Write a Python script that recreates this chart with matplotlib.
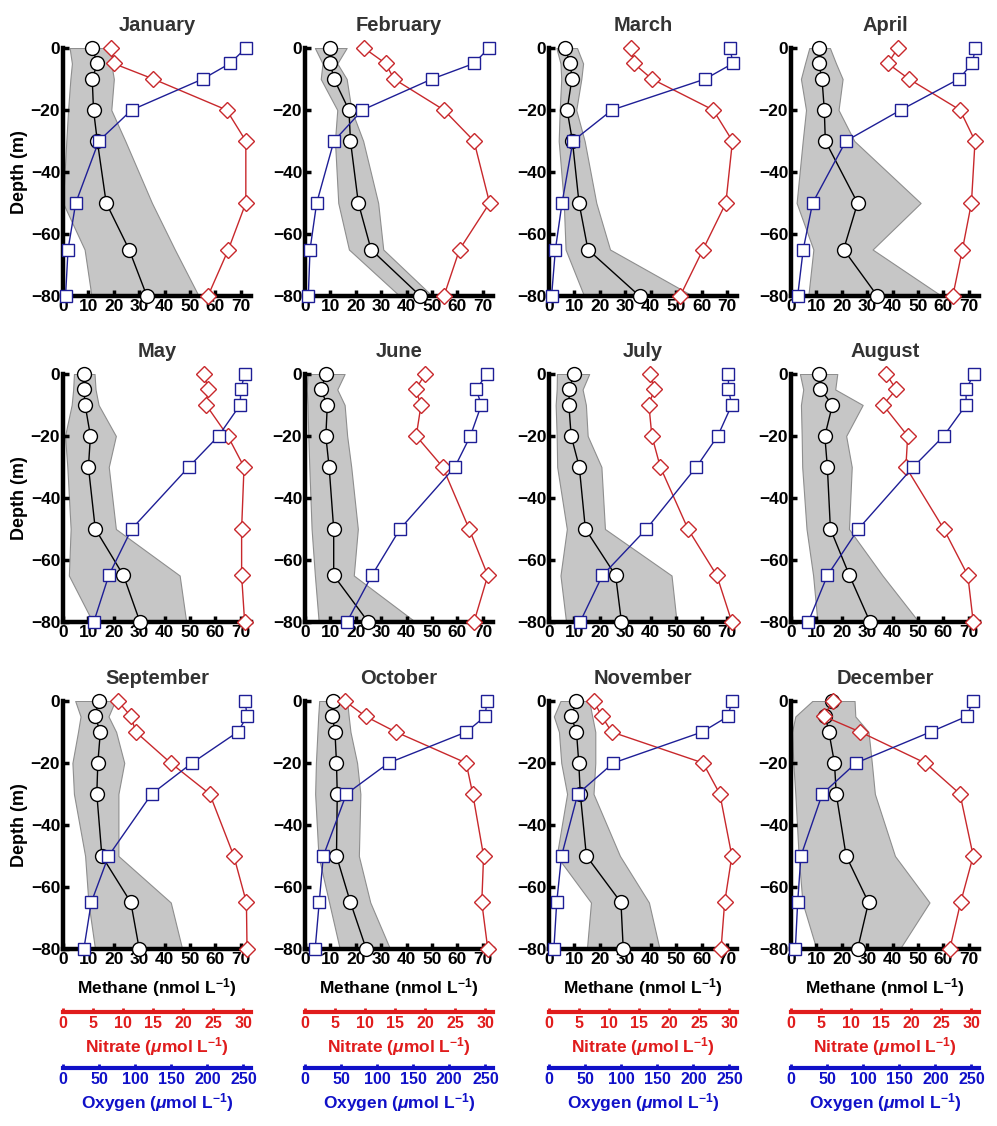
import numpy as np
import matplotlib
matplotlib.use("Agg")
import matplotlib.pyplot as plt

plt.rcParams['font.family'] = ['Liberation Sans', 'DejaVu Sans']
plt.rcParams['font.weight'] = 'bold'
plt.rcParams['mathtext.fontset'] = 'custom'
plt.rcParams['mathtext.rm'] = 'Liberation Sans:bold'
plt.rcParams['mathtext.bf'] = 'Liberation Sans:bold'
plt.rcParams['mathtext.it'] = 'Liberation Sans:bold:italic'

months = ['January', 'February', 'March', 'April', 'May', 'June',
          'July', 'August', 'September', 'October', 'November', 'December']
depth = [0, -5, -10, -20, -30, -50, -65, -80]

# methane mean (nmol/L) per month, one value per depth
methane = [
    [11.5, 13.5, 11.5, 12.0, 13.5, 17.0, 26.0, 33.0],
    [10.0, 10.0, 11.4, 17.3, 17.9, 21.0, 26.0, 45.4],
    [6.2, 8.4, 9.0, 7.1, 9.2, 11.8, 15.3, 35.6],
    [10.9, 10.9, 12.2, 13.1, 13.5, 26.2, 20.7, 34.0],
    [8.2, 8.2, 8.7, 10.8, 10.0, 12.7, 23.8, 30.3],
    [8.4, 6.2, 8.8, 8.2, 9.5, 11.3, 11.3, 24.9],
    [9.7, 8.0, 7.8, 8.7, 11.9, 14.3, 26.2, 28.5],
    [11.1, 11.6, 16.3, 13.3, 14.3, 15.5, 23.0, 31.1],
    [14.0, 12.6, 14.7, 13.7, 13.3, 15.3, 26.7, 30.0],
    [11.1, 10.8, 11.8, 12.4, 12.7, 12.4, 17.9, 24.1],
    [10.8, 8.7, 10.8, 11.7, 12.3, 14.7, 28.3, 29.2],
    [16.0, 13.5, 14.9, 17.1, 17.8, 21.7, 30.5, 26.2],
]
# methane range (min / max)
methane_lo = [
    [2.6, 3.5, 2.9, 2.0, 1.3, 0.0, 8.5, 11.2],
    [3.9, 6.9, 6.2, 12.7, 11.8, 13.1, 17.3, 37.3],
    [2.9, 4.5, 4.8, 4.2, 3.8, 5.8, 6.5, 13.8],
    [7.2, 5.5, 3.9, 5.9, 4.6, 2.2, 8.8, 6.8],
    [4.3, 4.0, 3.4, 0.8, 1.7, 3.0, 2.3, 11.7],
    [1.0, 0.7, 1.0, 1.3, 1.7, 2.6, 3.9, 5.4],
    [3.1, 3.0, 2.6, 3.0, 3.2, 7.0, 4.5, 6.7],
    [3.5, 4.8, 3.9, 4.2, 4.4, 6.1, 8.7, 10.4],
    [4.8, 6.9, 5.9, 3.7, 4.3, 8.7, 10.0, 12.6],
    [5.6, 5.2, 4.9, 4.3, 4.0, 5.3, 9.5, 13.7],
    [4.5, 1.9, 3.9, 4.8, 7.1, 3.0, 16.5, 14.9],
    [8.4, 1.7, 0.4, 0.9, 1.7, 3.0, 4.5, 10.0],
]
methane_hi = [
    [20.0, 19.0, 20.0, 19.0, 24.5, 35.0, 44.0, 53.4],
    [16.4, 12.7, 16.4, 18.3, 22.9, 28.8, 30.8, 50.1],
    [11.0, 13.4, 12.7, 10.7, 14.0, 18.6, 24.0, 56.6],
    [15.3, 17.7, 20.3, 18.7, 24.9, 51.0, 32.1, 59.3],
    [12.4, 12.8, 14.0, 20.8, 18.0, 20.8, 45.9, 48.5],
    [15.6, 12.7, 15.6, 16.6, 18.2, 20.8, 19.2, 43.5],
    [15.8, 13.2, 14.5, 15.2, 20.6, 22.0, 48.2, 50.2],
    [18.2, 17.4, 28.2, 21.7, 23.9, 22.8, 36.0, 50.3],
    [20.5, 17.9, 20.9, 24.1, 21.8, 21.8, 42.4, 46.9],
    [16.6, 17.2, 17.9, 20.5, 21.8, 21.2, 25.7, 33.5],
    [15.8, 17.0, 18.2, 18.2, 17.5, 27.9, 39.3, 43.5],
    [25.0, 25.3, 30.5, 31.8, 33.0, 40.9, 54.5, 42.8],
]
# nitrate (umol/L)
nitrate = [
    [7.9, 8.4, 15.0, 27.2, 30.4, 30.4, 27.5, 24.1],
    [9.8, 13.4, 14.8, 23.1, 28.1, 30.7, 25.7, 23.1],
    [13.7, 14.1, 17.1, 27.3, 30.5, 29.4, 25.6, 21.8],
    [17.8, 16.1, 19.6, 28.1, 30.6, 30.0, 28.5, 26.9],
    [23.5, 24.1, 23.8, 27.4, 30.1, 29.7, 29.7, 30.2],
    [20.0, 18.4, 19.3, 18.5, 22.9, 27.3, 30.4, 28.1],
    [16.8, 17.5, 16.6, 17.1, 18.5, 23.1, 27.9, 30.4],
    [15.8, 17.5, 15.3, 19.4, 19.1, 25.4, 29.4, 30.3],
    [9.1, 11.3, 12.1, 17.9, 24.4, 28.4, 30.5, 30.6],
    [6.6, 10.1, 15.1, 26.8, 27.9, 29.7, 29.4, 30.4],
    [7.4, 8.8, 10.4, 25.6, 28.4, 30.4, 29.2, 28.6],
    [7.0, 5.5, 11.5, 22.3, 28.1, 30.3, 28.2, 26.4],
]
# dissolved oxygen (umol/L)
oxygen = [
    [253.5, 231.3, 193.7, 95.1, 49.6, 17.6, 7.0, 3.5],
    [254.9, 234.1, 176.1, 79.6, 40.1, 16.2, 7.0, 4.6],
    [251.0, 254.6, 216.5, 87.3, 33.1, 18.0, 8.8, 3.5],
    [255.6, 251.0, 232.7, 152.1, 76.1, 29.9, 16.9, 9.2],
    [251.7, 246.5, 245.4, 215.5, 174.3, 95.1, 63.4, 42.6],
    [252.1, 237.3, 244.4, 229.2, 207.7, 131.7, 92.6, 58.1],
    [248.6, 248.6, 253.2, 233.8, 204.2, 134.9, 73.9, 43.0],
    [253.5, 242.6, 242.6, 211.6, 169.4, 93.3, 50.4, 23.9],
    [252.5, 254.9, 242.2, 178.9, 122.9, 63.0, 39.1, 28.9],
    [252.1, 249.6, 223.6, 115.8, 57.4, 25.4, 19.7, 14.1],
    [253.5, 247.9, 212.3, 89.1, 39.8, 17.3, 10.6, 6.7],
    [252.5, 243.3, 193.3, 90.1, 43.3, 13.7, 9.2, 6.0],
]

methane_ticks = [0, 10, 20, 30, 40, 50, 60, 70]
nitrate_ticks = [0, 5, 10, 15, 20, 25, 30]
oxygen_ticks = [0, 50, 100, 150, 200, 250]
depth_ticks = [0, -20, -40, -60, -80]

# axis ranges: 30 umol nitrate and 250 umol oxygen sit at 71 nmol methane
CH4_LIM = (0, 74)
NO3_LIM = (0, 74 * 30 / 71)
O2_LIM = (0, 74 * 250 / 71)

RED = '#c8282c'
BLUE = '#1e1e96'
RED_AX = '#e01c1c'
BLUE_AX = '#1010c8'

fig = plt.figure(figsize=(9.97, 11.26), dpi=100)

lefts = [0.0632, 0.3059, 0.5507, 0.7934]
bottoms = [0.7371, 0.4476, 0.1572]
w, h = 0.1886, 0.2203

for i, month in enumerate(months):
    r, c = divmod(i, 4)
    ax = fig.add_axes([lefts[c], bottoms[r], w, h])
    ax.fill_betweenx(depth, methane_lo[i], methane_hi[i], facecolor='#c6c6c6',
                     edgecolor='#8e8e8e', lw=0.8, zorder=1)
    ax.plot(methane[i], depth, '-o', color='k', lw=1, ms=10, mfc='white',
            mec='k', mew=1, clip_on=False, zorder=3)
    ax.set_xlim(*CH4_LIM)
    ax.set_ylim(-80, 0)
    ax.set_xticks(methane_ticks)
    ax.set_yticks(depth_ticks)
    ax.spines[['top', 'right']].set_visible(False)
    for s in ('left', 'bottom'):
        ax.spines[s].set_linewidth(3.2)
    ax.tick_params(direction='in', length=4, width=2.5, labelsize=12.5, pad=2)
    for lab in ax.get_xticklabels() + ax.get_yticklabels():
        lab.set_fontweight('bold')
    # fixed y keeps the title clear of the twin axes' automatic placement
    ax.set_title(month, fontsize=14.5, fontweight='bold', color='#333333',
                 y=1.0, pad=12)
    if c == 0:
        ax.set_ylabel('Depth (m)', fontsize=13, fontweight='bold', labelpad=2)
    if r == 2:
        ax.set_xlabel('Methane (nmol L$^{-1}$)', fontsize=12.5, fontweight='bold', labelpad=7)

    # nitrate on its own x scale
    axn = ax.twiny()
    axn.set_xlim(*NO3_LIM)
    axn.axis('off')
    axn.plot(nitrate[i], depth, '-D', color=RED, lw=1, ms=8.5, mfc='white',
             mec=RED, mew=1, clip_on=False, zorder=3)

    # oxygen on its own x scale
    axo = ax.twiny()
    axo.set_xlim(*O2_LIM)
    axo.axis('off')
    axo.plot(oxygen[i], depth, '-s', color=BLUE, lw=1, ms=9, mfc='white',
             mec=BLUE, mew=1, clip_on=False, zorder=3)
    ax.set_ylim(-80, 0)

# extra scales for nitrate and oxygen under each column
for c in range(4):
    for ypos, lim, ticks, col, txt in [
        (0.1012, NO3_LIM, nitrate_ticks, RED_AX, 'Nitrate ($\\mu$mol L$^{-1}$)'),
        (0.0515, O2_LIM, oxygen_ticks, BLUE_AX, 'Oxygen ($\\mu$mol L$^{-1}$)'),
    ]:
        sx = fig.add_axes([lefts[c], ypos, w, 0.0001])
        sx.patch.set_visible(False)
        sx.set_xlim(*lim)
        sx.set_xticks(ticks)
        sx.set_yticks([])
        for s in ('top', 'left', 'right'):
            sx.spines[s].set_visible(False)
        sx.spines['bottom'].set_color(col)
        sx.spines['bottom'].set_linewidth(3)
        sx.tick_params(axis='x', direction='in', length=3, width=2, colors=col,
                       labelsize=11.5, pad=3)
        for lab in sx.get_xticklabels():
            lab.set_fontweight('bold')
        sx.set_xlabel(txt, color=col, fontsize=12.5, fontweight='bold', labelpad=3)

fig.savefig('out.png', dpi=100)
